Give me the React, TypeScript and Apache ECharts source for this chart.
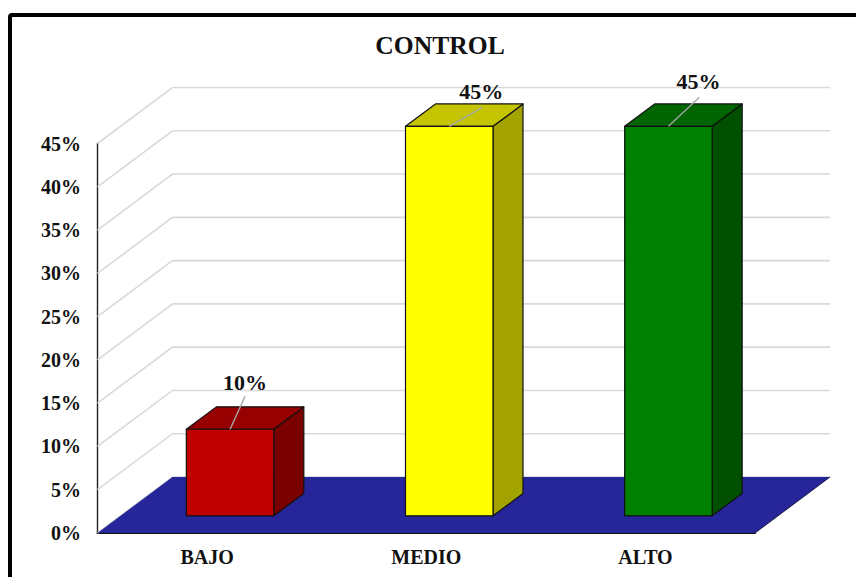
import React, { useEffect, useRef } from "react";
import * as echarts from "echarts";

const titleText = "CONTROL";
const categories = ["BAJO", "MEDIO", "ALTO"];
const percentages = [10, 45, 45];
const wallTicks = [0, 5, 10, 15, 20, 25, 30, 35, 40, 45];

const faceColors = [
  { front: "#c00000", top: "#960000", side: "#7a0000" },
  { front: "#ffff00", top: "#c4c400", side: "#a3a300" },
  { front: "#008000", top: "#006400", side: "#005000" },
];

// Where each value label sits relative to the top-centre of its bar.
const labelOffsets = [
  { dx: 15, dy: -47, lineDx: 15, lineDy: -33 },
  { dx: 32, dy: -35, lineDx: 33, lineDy: -19 },
  { dx: 30, dy: -45, lineDx: 31, lineDy: -29 },
];

const serif = '"Liberation Serif", "Times New Roman", serif';

// Oblique projection of the chart's depth axis.
const DEPTH_X = 75;
const DEPTH_Y = -56;
const BAR_NEAR = 23 / 75;
const BAR_FAR = 53 / 75;
const BAR_WIDTH = 87.5;

const renderWallLine = (params: any, api: any) => {
  const cs = params.coordSys;
  const y = api.coord([0, api.value(1)])[1];
  return {
    type: "polyline",
    silent: true,
    shape: {
      points: [
        [cs.x, y],
        [cs.x + DEPTH_X, y + DEPTH_Y],
        [cs.x + cs.width + DEPTH_X, y + DEPTH_Y],
      ],
    },
    style: { fill: "none", stroke: "#d9d9d9", lineWidth: 1.6 },
  };
};

const renderFloor = (params: any, api: any) => {
  const cs = params.coordSys;
  const y = api.coord([0, 0])[1];
  return {
    type: "group",
    silent: true,
    children: [
      {
        type: "polygon",
        shape: {
          points: [
            [cs.x, y],
            [cs.x + DEPTH_X, y + DEPTH_Y],
            [cs.x + cs.width + DEPTH_X, y + DEPTH_Y],
            [cs.x + cs.width, y],
          ],
        },
        style: { fill: "#26269a", stroke: "none" },
      },
      {
        type: "line",
        shape: {
          x1: cs.x + cs.width,
          y1: y,
          x2: cs.x + cs.width + DEPTH_X,
          y2: y + DEPTH_Y,
        },
        style: { stroke: "#1a1a40", lineWidth: 1 },
      },
    ],
  };
};

const renderBar = (params: any, api: any) => {
  const i = api.value(0);
  const [cx, topY] = api.coord([i, api.value(1)]);
  const baseY = api.coord([i, 0])[1];
  const colors = faceColors[i];
  const offset = labelOffsets[i];
  const nearX = DEPTH_X * BAR_NEAR;
  const nearY = DEPTH_Y * BAR_NEAR;
  const ddx = DEPTH_X * (BAR_FAR - BAR_NEAR);
  const ddy = DEPTH_Y * (BAR_FAR - BAR_NEAR);
  const left = cx + nearX - BAR_WIDTH / 2;
  const right = left + BAR_WIDTH;
  const top = topY + nearY;
  const bottom = baseY + nearY;
  const edge = { stroke: "#111111", lineWidth: 1.2, lineJoin: "round" };
  const midX = (left + right) / 2;
  return {
    type: "group",
    silent: true,
    children: [
      {
        type: "polygon",
        shape: {
          points: [
            [right, top],
            [right + ddx, top + ddy],
            [right + ddx, bottom + ddy],
            [right, bottom],
          ],
        },
        style: { fill: colors.side, ...edge },
      },
      {
        type: "polygon",
        shape: {
          points: [
            [left, top],
            [left + ddx, top + ddy],
            [right + ddx, top + ddy],
            [right, top],
          ],
        },
        style: { fill: colors.top, ...edge },
      },
      {
        type: "rect",
        shape: { x: left, y: top, width: BAR_WIDTH, height: bottom - top },
        style: { fill: colors.front, ...edge },
      },
      {
        type: "line",
        shape: {
          x1: midX,
          y1: top,
          x2: midX + offset.lineDx,
          y2: top + offset.lineDy,
        },
        style: { stroke: "#a6a6a6", lineWidth: 1.4 },
      },
      {
        type: "text",
        style: {
          text: `${api.value(1)}%`,
          x: midX + offset.dx,
          y: top + offset.dy,
          align: "center",
          verticalAlign: "middle",
          font: `bold 22px ${serif}`,
          fill: "#111111",
        },
      },
    ],
  };
};

export default function App() {
  const ref = useRef<HTMLDivElement>(null);

  useEffect(() => {
    document.body.style.margin = "0";
    const chart = echarts.init(ref.current!, undefined, { renderer: "svg" });
    chart.setOption({
      animation: false,
      backgroundColor: "#ffffff",
      title: {
        text: titleText,
        left: 435,
        top: 27,
        textAlign: "center",
        textStyle: {
          fontFamily: serif,
          fontWeight: "bold",
          fontSize: 25.6,
          color: "#111111",
        },
      },
      grid: { left: 97.5, right: 101, top: 143.5, bottom: 44 },
      xAxis: {
        type: "category",
        data: categories,
        axisTick: { show: false },
        axisLine: { lineStyle: { color: "#111111", width: 2 } },
        axisLabel: {
          margin: 14,
          fontFamily: serif,
          fontWeight: "bold",
          fontSize: 20,
          color: "#111111",
        },
      },
      yAxis: {
        type: "value",
        min: 0,
        max: 45,
        interval: 5,
        splitLine: { show: false },
        axisTick: { show: false },
        axisLine: { show: true, lineStyle: { color: "#222222", width: 1.4 } },
        axisLabel: {
          formatter: "{value}%",
          margin: 16.5,
          fontFamily: serif,
          fontWeight: "bold",
          fontSize: 20,
          color: "#111111",
        },
      },
      series: [
        {
          type: "custom",
          z: 1,
          renderItem: renderWallLine,
          data: wallTicks.map((v) => [0, v]),
        },
        { type: "custom", z: 2, renderItem: renderFloor, data: [[0, 0]] },
        {
          type: "custom",
          z: 3,
          renderItem: renderBar,
          data: percentages.map((v, i) => [i, v]),
        },
      ],
      graphic: [
        {
          type: "rect",
          silent: true,
          shape: { x: 10, y: 15, width: 900, height: 640, r: 2 },
          style: { fill: "none", stroke: "#000000", lineWidth: 4 },
        },
      ],
    });
    return () => chart.dispose();
  }, []);

  return <div ref={ref} style={{ width: 856, height: 577 }} />;
}
